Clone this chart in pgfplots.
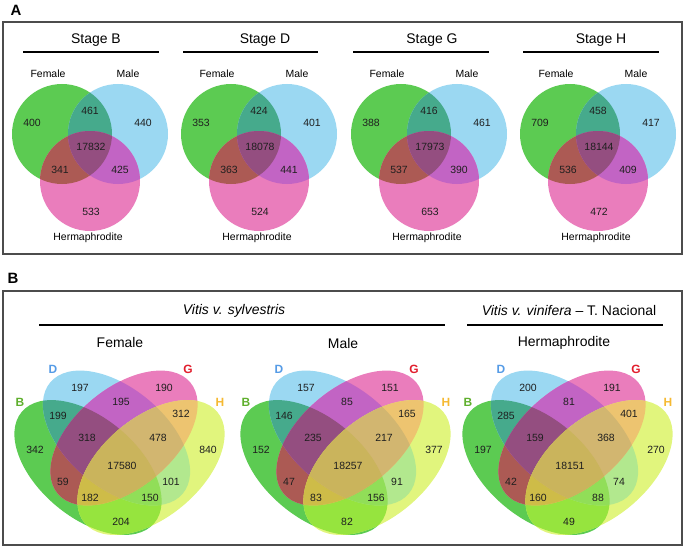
\documentclass[border=0pt]{standalone}
\usepackage{pgfplots}
\pgfplotsset{compat=1.18}
\usepackage{pgfplotstable}
\usepackage{fontspec}
\setmainfont{Liberation Sans}

\definecolor{cBo}{RGB}{92,203,82}
\definecolor{cDo}{RGB}{155,216,242}
\definecolor{cGo}{RGB}{234,125,188}
\definecolor{cHo}{RGB}{225,245,125}
\definecolor{cBD}{RGB}{70,170,140}
\definecolor{cBG}{RGB}{172,90,84}
\definecolor{cBH}{RGB}{150,228,62}
\definecolor{cDG}{RGB}{194,100,196}
\definecolor{cDH}{RGB}{178,232,142}
\definecolor{cGH}{RGB}{237,196,112}
\definecolor{cBDG}{RGB}{148,78,128}
\definecolor{cBDH}{RGB}{145,222,88}
\definecolor{cBGH}{RGB}{206,188,72}
\definecolor{cDGH}{RGB}{210,182,112}
\definecolor{cAll}{RGB}{202,180,92}
\definecolor{lB}{RGB}{95,175,45}
\definecolor{lD}{RGB}{85,155,230}
\definecolor{lG}{RGB}{225,30,45}
\definecolor{lH}{RGB}{245,185,50}

% four-set ellipses (absolute centre x given)
\newcommand\EB[2]{\path[#2,rotate around={-40:(axis cs:#1,467.5)}] (axis cs:#1,467.5) ellipse [x radius=86.5bp,y radius=49.8bp];}
\newcommand\ED[2]{\path[#2,rotate around={-40:(axis cs:#1,438)}] (axis cs:#1,438) ellipse [x radius=86.5bp,y radius=49.8bp];}
\newcommand\EG[2]{\path[#2,rotate around={40:(axis cs:#1,438)}] (axis cs:#1,438) ellipse [x radius=86.5bp,y radius=49.8bp];}
\newcommand\EH[2]{\path[#2,rotate around={40:(axis cs:#1,467.5)}] (axis cs:#1,467.5) ellipse [x radius=86.5bp,y radius=49.8bp];}
\newcommand\quadvenn[4]{%
 \EB{#1}{fill=cBo}\ED{#2}{fill=cDo}\EG{#3}{fill=cGo}\EH{#4}{fill=cHo}%
 \begin{scope}\EB{#1}{clip}\ED{#2}{fill=cBD}\end{scope}%
 \begin{scope}\EB{#1}{clip}\EG{#3}{fill=cBG}\end{scope}%
 \begin{scope}\EB{#1}{clip}\EH{#4}{fill=cBH}\end{scope}%
 \begin{scope}\ED{#2}{clip}\EG{#3}{fill=cDG}\end{scope}%
 \begin{scope}\ED{#2}{clip}\EH{#4}{fill=cDH}\end{scope}%
 \begin{scope}\EG{#3}{clip}\EH{#4}{fill=cGH}\end{scope}%
 \begin{scope}\EB{#1}{clip}\ED{#2}{clip}\EG{#3}{fill=cBDG}\end{scope}%
 \begin{scope}\EB{#1}{clip}\ED{#2}{clip}\EH{#4}{fill=cBDH}\end{scope}%
 \begin{scope}\EB{#1}{clip}\EG{#3}{clip}\EH{#4}{fill=cBGH}\end{scope}%
 \begin{scope}\ED{#2}{clip}\EG{#3}{clip}\EH{#4}{fill=cDGH}\end{scope}%
 \begin{scope}\EB{#1}{clip}\ED{#2}{clip}\EG{#3}{clip}\EH{#4}{fill=cAll}\end{scope}%
}
% three-set circles
\newcommand\CF[2]{\path[#2] (axis cs:#1,134) circle [radius=50bp];}
\newcommand\CM[2]{\path[#2] (axis cs:#1,134) circle [radius=50bp];}
\newcommand\CH[2]{\path[#2] (axis cs:#1,181) circle [radius=50bp];}
\newcommand\trivenn[3]{%
 \CF{#1}{fill=cBo}\CM{#2}{fill=cDo}\CH{#3}{fill=cGo}%
 \begin{scope}\CF{#1}{clip}\CM{#2}{fill=cBD}\end{scope}%
 \begin{scope}\CF{#1}{clip}\CH{#3}{fill=cBG}\end{scope}%
 \begin{scope}\CM{#2}{clip}\CH{#3}{fill=cDG}\end{scope}%
 \begin{scope}\CF{#1}{clip}\CM{#2}{clip}\CH{#3}{fill=cBDG}\end{scope}%
}

\pgfplotstableread{
x y sB sD sG sH
32 123 400 353 388 709
90 111 461 424 416 458
143 123 440 401 461 417
91 147 17832 18078 17973 18144
60 170 341 363 537 536
120 170 425 441 390 409
91 212 533 524 653 472
}\triTab

\pgfplotstableread{
x y fem male herm
35 450 342 152 197
80 388 197 157 200
164 388 190 151 191
208 450 840 377 270
58 416 199 146 285
121 402 195 85 81
181 414 312 165 401
63 482 59 47 42
171 482 101 91 74
87 438 318 235 159
158 438 478 217 368
90 498 182 83 160
150 498 150 156 88
122 466 17580 18257 18151
121 522 204 82 49
}\quadTab

\pgfplotsset{numstyle/.style={draw=none, mark=none, nodes near coords,
  point meta=explicit symbolic,
  every node near coord/.append style={font=\fontsize{10.5}{12}\selectfont, anchor=center, inner sep=0pt, text=black!88}}}

\begin{document}
\begin{tikzpicture}
\begin{axis}[scale only axis, width=685bp, height=546bp,
  xmin=0, xmax=685, ymin=0, ymax=546, y dir=reverse,
  hide axis, clip=false]
\path (axis cs:0,0) rectangle (axis cs:685,546);

% ---------- panel A ----------
\trivenn{62}{118}{90}
\trivenn{231}{287}{259}
\trivenn{401}{457}{429}
\trivenn{570}{626}{598}

\draw[line width=1.1bp, black!70] (axis cs:3,22) rectangle (axis cs:682,254);
\node[font=\bfseries\fontsize{15}{18}\selectfont] at (axis cs:16,10) {A};

\node[font=\fontsize{14}{16}\selectfont] at (axis cs:96,40) {Stage B};
\node[font=\fontsize{14}{16}\selectfont] at (axis cs:265,40) {Stage D};
\node[font=\fontsize{14}{16}\selectfont] at (axis cs:432,40) {Stage G};
\node[font=\fontsize{14}{16}\selectfont] at (axis cs:601,40) {Stage H};
\draw[line width=1.2bp] (axis cs:23,52) -- (axis cs:159,52);
\draw[line width=1.2bp] (axis cs:183,52) -- (axis cs:318,52);
\draw[line width=1.2bp] (axis cs:353,52) -- (axis cs:489,52);
\draw[line width=1.2bp] (axis cs:523,52) -- (axis cs:659,52);

\node[font=\fontsize{10.5}{12}\selectfont] at (axis cs:48,74) {Female};
\node[font=\fontsize{10.5}{12}\selectfont] at (axis cs:128,74) {Male};
\node[font=\fontsize{10.5}{12}\selectfont] at (axis cs:88,238) {Hermaphrodite};
\node[font=\fontsize{10.5}{12}\selectfont] at (axis cs:217,74) {Female};
\node[font=\fontsize{10.5}{12}\selectfont] at (axis cs:297,74) {Male};
\node[font=\fontsize{10.5}{12}\selectfont] at (axis cs:257,238) {Hermaphrodite};
\node[font=\fontsize{10.5}{12}\selectfont] at (axis cs:387,74) {Female};
\node[font=\fontsize{10.5}{12}\selectfont] at (axis cs:467,74) {Male};
\node[font=\fontsize{10.5}{12}\selectfont] at (axis cs:427,238) {Hermaphrodite};
\node[font=\fontsize{10.5}{12}\selectfont] at (axis cs:556,74) {Female};
\node[font=\fontsize{10.5}{12}\selectfont] at (axis cs:636,74) {Male};
\node[font=\fontsize{10.5}{12}\selectfont] at (axis cs:596,238) {Hermaphrodite};

\addplot[numstyle] table[x=x, y=y, meta=sB] {\triTab};
\addplot[numstyle, x filter/.expression={x+169}] table[x=x, y=y, meta=sD] {\triTab};
\addplot[numstyle, x filter/.expression={x+339}] table[x=x, y=y, meta=sG] {\triTab};
\addplot[numstyle, x filter/.expression={x+508}] table[x=x, y=y, meta=sH] {\triTab};

% ---------- panel B ----------
\quadvenn{88}{116.5}{124}{151}
\quadvenn{314}{342.5}{350}{377}
\quadvenn{536}{564.5}{572}{599}

\draw[line width=1.1bp, black!70] (axis cs:3,291) rectangle (axis cs:682,545);
\node[font=\bfseries\fontsize{15}{18}\selectfont] at (axis cs:13,278) {B};

\node[font=\itshape\fontsize{14}{16}\selectfont] at (axis cs:234,311) {Vitis v. sylvestris};
\node[font=\fontsize{14}{16}\selectfont] at (axis cs:569,311) {\textit{Vitis v. vinifera} -- T. Nacional};
\draw[line width=1.2bp] (axis cs:39,325) -- (axis cs:445,325);
\draw[line width=1.2bp] (axis cs:467,325) -- (axis cs:663,325);
\node[font=\fontsize{14}{16}\selectfont] at (axis cs:120,343) {Female};
\node[font=\fontsize{14}{16}\selectfont] at (axis cs:343,344) {Male};
\node[font=\fontsize{14}{16}\selectfont] at (axis cs:564,343) {Hermaphrodite};

\node[font=\bfseries\fontsize{12}{14}\selectfont, text=lB] at (axis cs:20,402) {B};
\node[font=\bfseries\fontsize{12}{14}\selectfont, text=lD] at (axis cs:53,369) {D};
\node[font=\bfseries\fontsize{12}{14}\selectfont, text=lG] at (axis cs:188,369) {G};
\node[font=\bfseries\fontsize{12}{14}\selectfont, text=lH] at (axis cs:220,402) {H};
\node[font=\bfseries\fontsize{12}{14}\selectfont, text=lB] at (axis cs:246,402) {B};
\node[font=\bfseries\fontsize{12}{14}\selectfont, text=lD] at (axis cs:279,369) {D};
\node[font=\bfseries\fontsize{12}{14}\selectfont, text=lG] at (axis cs:414,369) {G};
\node[font=\bfseries\fontsize{12}{14}\selectfont, text=lH] at (axis cs:446,402) {H};
\node[font=\bfseries\fontsize{12}{14}\selectfont, text=lB] at (axis cs:468,402) {B};
\node[font=\bfseries\fontsize{12}{14}\selectfont, text=lD] at (axis cs:501,369) {D};
\node[font=\bfseries\fontsize{12}{14}\selectfont, text=lG] at (axis cs:636,369) {G};
\node[font=\bfseries\fontsize{12}{14}\selectfont, text=lH] at (axis cs:668,402) {H};

\addplot[numstyle] table[x=x, y=y, meta=fem] {\quadTab};
\addplot[numstyle, x filter/.expression={x+226}] table[x=x, y=y, meta=male] {\quadTab};
\addplot[numstyle, x filter/.expression={x+448}] table[x=x, y=y, meta=herm] {\quadTab};
\end{axis}
\end{tikzpicture}
\end{document}
